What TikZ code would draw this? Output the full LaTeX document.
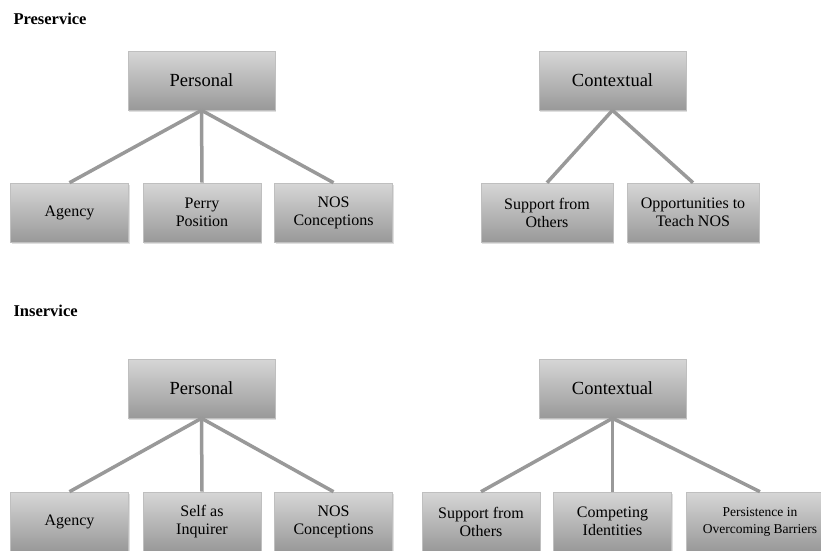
\documentclass[tikz,border=0pt]{standalone}
\usepackage{fontspec}
\setmainfont{Liberation Serif}
\usetikzlibrary{shadows}

\begin{document}
\begin{tikzpicture}[
            x=1pt, y=-1pt,
            box/.style={draw=black!25, line width=0.6pt, top color=black!16, bottom color=black!40,
                        drop shadow={shadow xshift=1pt, shadow yshift=-1.5pt, opacity=0.25},
                        minimum height=59pt, inner sep=1pt, align=center, font=\fontsize{16}{18}\selectfont},
            parent/.style={box, minimum width=147pt, font=\fontsize{18.5}{20}\selectfont},
            child/.style={box, minimum width=118pt},
            heading/.style={anchor=west, font=\bfseries\fontsize{16.5}{18}\selectfont},
            branch/.style={draw=black!40, line width=3.5pt}
        ]
            \useasboundingbox (0,0) rectangle (821,550);

            % preservice
            \node [heading] (pre) at (10,19) {Preservice};
            \node [parent] (ppers) at (201.5,80.5) {Personal};
            \node [child] (pagency) at (69.5,212.5) {Agency};
            \node [child] (pperry) at (202,212.5) {Perry\\Position};
            \node [child] (pnos) at (333.5,212.5) {NOS\\Conceptions};
            \node [parent] (pcont) at (612.5,80.5) {Contextual};
            \node [child, minimum width=132pt] (psupport) at (547,212.5) {Support from\\Others};
            \node [child, minimum width=132pt] (popp) at (693,212.5) {Opportunities to\\Teach NOS};

            \draw [branch] (ppers.south) -- (pagency.north);
            \draw [branch] (ppers.south) -- (pperry.north);
            \draw [branch] (ppers.south) -- (pnos.north);
            \draw [branch] (pcont.south) -- (psupport.north);
            \draw [branch] (pcont.south) -- (popp.north);

            % inservice
            \node [heading] (in) at (10,311) {Inservice};
            \node [parent] (ipers) at (201.5,388.5) {Personal};
            \node [child] (iagency) at (69.5,521.5) {Agency};
            \node [child] (iself) at (202,521.5) {Self as\\Inquirer};
            \node [child] (inos) at (333.5,521.5) {NOS\\Conceptions};
            \node [parent] (icont) at (612.5,388.5) {Contextual};
            \node [child] (isupport) at (481,521.5) {Support from\\Others};
            \node [child] (icomp) at (612.5,521.5) {Competing\\Identities};
            \node [child, minimum width=148pt, font=\fontsize{13.5}{17}\selectfont] (ipersist) at (760,521.5) {Persistence in\\Overcoming Barriers};

            \draw [branch] (ipers.south) -- (iagency.north);
            \draw [branch] (ipers.south) -- (iself.north);
            \draw [branch] (ipers.south) -- (inos.north);
            \draw [branch] (icont.south) -- (isupport.north);
            \draw [branch] (icont.south) -- (icomp.north);
            \draw [branch] (icont.south) -- (ipersist.north);

        \end{tikzpicture}
\end{document}
